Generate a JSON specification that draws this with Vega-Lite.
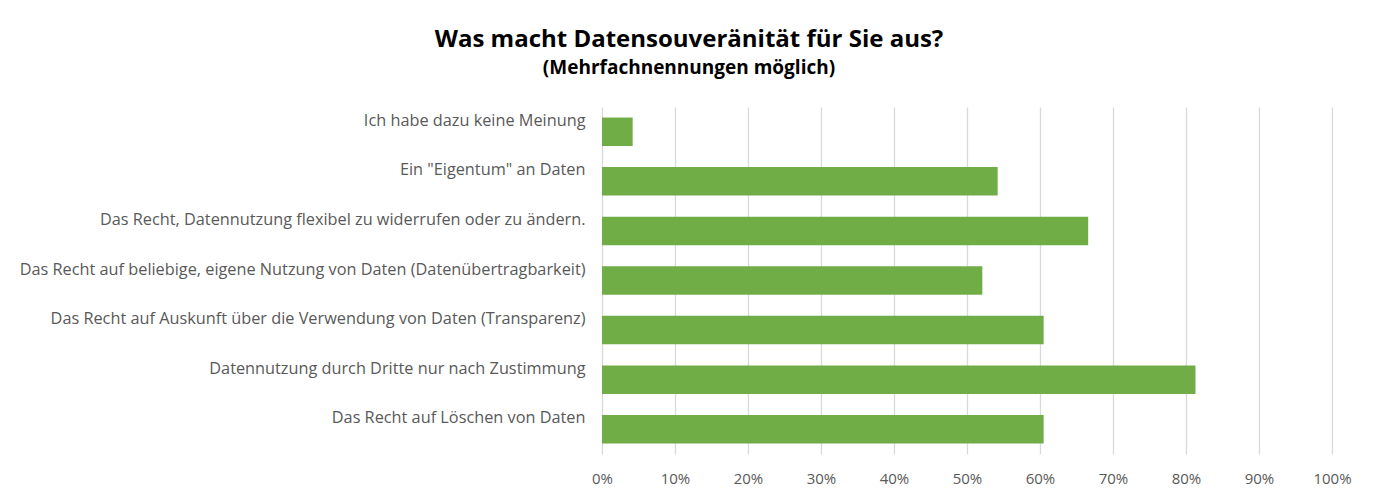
{
  "$schema": "https://vega.github.io/schema/vega-lite/v6.json",
  "width": 730,
  "height": 347,
  "autosize": {"type": "none"},
  "padding": {"left": 602, "top": 107, "right": 46, "bottom": 49},
  "background": "white",
  "title": {
    "text": "Was macht Datensouveränität für Sie aus?",
    "subtitle": "(Mehrfachnennungen möglich)",
    "anchor": "middle",
    "frame": "group",
    "dx": -278,
    "offset": 29,
    "font": "Open Sans",
    "fontSize": 24,
    "fontWeight": "bold",
    "color": "#000000",
    "subtitleFont": "Open Sans",
    "subtitleFontSize": 19,
    "subtitleFontWeight": "bold",
    "subtitleColor": "#000000",
    "subtitlePadding": 7
  },
  "data": {
    "values": [
      {"antwort": "Ich habe dazu keine Meinung", "anteil": 0.042},
      {"antwort": "Ein \"Eigentum\" an Daten", "anteil": 0.542},
      {"antwort": "Das Recht, Datennutzung flexibel zu widerrufen oder zu ändern.", "anteil": 0.666},
      {"antwort": "Das Recht auf beliebige, eigene Nutzung von Daten (Datenübertragbarkeit)", "anteil": 0.521},
      {"antwort": "Das Recht auf Auskunft über die Verwendung von Daten (Transparenz)", "anteil": 0.605},
      {"antwort": "Datennutzung durch Dritte nur nach Zustimmung", "anteil": 0.813},
      {"antwort": "Das Recht auf Löschen von Daten", "anteil": 0.605}
    ]
  },
  "mark": {"type": "bar", "color": "#70AD47"},
  "encoding": {
    "y": {
      "field": "antwort",
      "type": "nominal",
      "sort": null,
      "scale": {"paddingInner": 0.425, "paddingOuter": 0.2125},
      "axis": {
        "title": null,
        "domain": false,
        "ticks": false,
        "labelPadding": 17,
        "labelOffset": -11,
        "labelFont": "Open Sans",
        "labelFontSize": 16.3,
        "labelColor": "#595959",
        "labelLimit": 700
      }
    },
    "x": {
      "field": "anteil",
      "type": "quantitative",
      "scale": {"domain": [0, 1], "nice": false},
      "axis": {
        "title": null,
        "format": ".0%",
        "values": [0, 0.1, 0.2, 0.3, 0.4, 0.5, 0.6, 0.7, 0.8, 0.9, 1],
        "domain": false,
        "ticks": false,
        "grid": true,
        "gridColor": "#d9d9d9",
        "gridWidth": 1.3,
        "labelFlush": false,
        "labelPadding": 17,
        "labelFont": "Open Sans",
        "labelFontSize": 15,
        "labelColor": "#595959"
      }
    }
  },
  "config": {
    "view": {"stroke": null}
  }
}
